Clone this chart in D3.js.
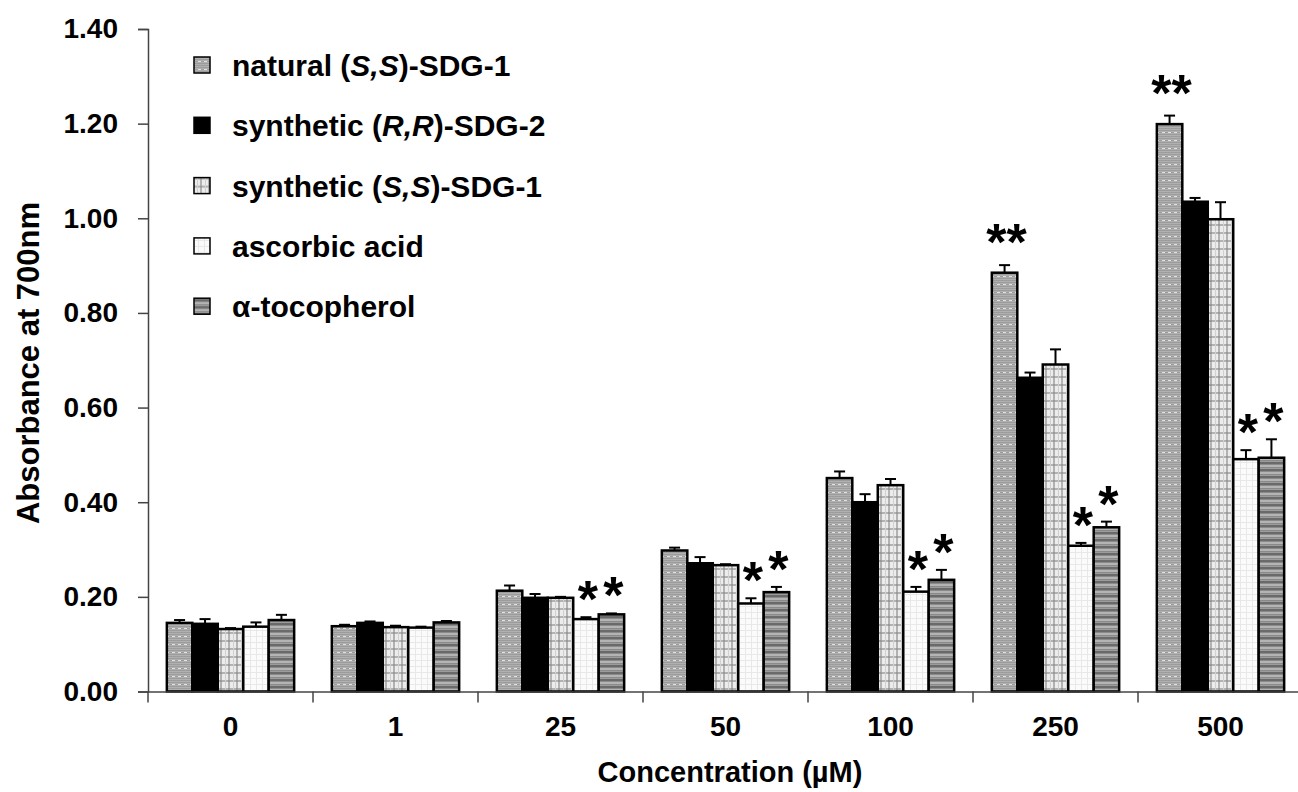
<!DOCTYPE html>
<html>
<head>
<meta charset="utf-8">
<script src="https://cdn.jsdelivr.net/npm/d3@7"></script>
<style>
  body { margin: 0; background: #fff; }
  svg text { font-family: "Liberation Sans", Arial, sans-serif; font-weight: bold; fill: #000; }
</style>
</head>
<body>
<div class="chartWrapper"></div>
<script>
// concentrations (µM)
var categories = ['0', '1', '25', '50', '100', '250', '500'];
var seriesKeys = ['natural', 'synthRR', 'synthSS', 'ascorbic', 'tocopherol'];
// legend labels, odd parts are italic
var seriesLabels = [
  ['natural (', 'S,S', ')-SDG-1'],
  ['synthetic (', 'R,R', ')-SDG-2'],
  ['synthetic (', 'S,S', ')-SDG-1'],
  ['ascorbic acid'],
  ['α-tocopherol']
];
var natural      = [0.145, 0.138, 0.213, 0.298, 0.451, 0.885, 1.199];
var naturalErr   = [0.006, 0.003, 0.011, 0.006, 0.014, 0.016, 0.018];
var synthRR      = [0.143, 0.145, 0.198, 0.271, 0.400, 0.663, 1.035];
var synthRRErr   = [0.010, 0.003, 0.008, 0.013, 0.017, 0.011, 0.008];
var synthSS      = [0.132, 0.136, 0.198, 0.267, 0.436, 0.691, 0.998];
var synthSSErr   = [0.002, 0.003, 0.002, 0.002, 0.013, 0.032, 0.036];
var ascorbic     = [0.137, 0.135, 0.153, 0.186, 0.211, 0.308, 0.491];
var ascorbicErr  = [0.009, 0.002, 0.004, 0.011, 0.010, 0.006, 0.019];
var tocopherol    = [0.151, 0.146, 0.163, 0.210, 0.236, 0.347, 0.494];
var tocopherolErr = [0.011, 0.003, 0.002, 0.011, 0.021, 0.012, 0.039];
var naturalSig    = ['', '', '', '', '', '**', '**'];
var ascorbicSig   = ['', '', '*', '*', '*', '*', '*'];
var tocopherolSig = ['', '', '*', '*', '*', '*', '*'];
var yTicks = [0, 0.2, 0.4, 0.6, 0.8, 1.0, 1.2, 1.4];

var values = { natural: natural, synthRR: synthRR, synthSS: synthSS, ascorbic: ascorbic, tocopherol: tocopherol };
var errors = { natural: naturalErr, synthRR: synthRRErr, synthSS: synthSSErr, ascorbic: ascorbicErr, tocopherol: tocopherolErr };
var stars  = { natural: naturalSig, ascorbic: ascorbicSig, tocopherol: tocopherolSig };

var width = 1298, height = 792;
var x0 = 148, yBase = 691.5, yTop = 29, step = 165;

var svg = d3.select('.chartWrapper').append('svg')
  .attr('width', width)
  .attr('height', height);

// fill patterns for the five series
var defs = svg.append('defs');
var fills = {};

var p = defs.append('pattern').attr('id', 'pNatural').attr('patternUnits', 'userSpaceOnUse')
  .attr('width', 6).attr('height', 8);
p.append('rect').attr('width', 6).attr('height', 8).attr('fill', '#9c9c9c');
[1, 3, 5, 7].forEach(function (y) {
  p.append('rect').attr('x', 0).attr('y', y).attr('width', 6).attr('height', 1).attr('fill', '#b0b0b0');
});
p.append('rect').attr('x', 0).attr('y', 4).attr('width', 3).attr('height', 1).attr('fill', '#e2e2e2');
fills.natural = 'url(#pNatural)';

fills.synthRR = '#000';

p = defs.append('pattern').attr('id', 'pSynthSS').attr('patternUnits', 'userSpaceOnUse')
  .attr('width', 8).attr('height', 8);
p.append('rect').attr('width', 8).attr('height', 8).attr('fill', '#ececec');
p.append('rect').attr('x', 0).attr('y', 0).attr('width', 2).attr('height', 8).attr('fill', '#b2b2b2');
p.append('rect').attr('x', 0).attr('y', 0).attr('width', 8).attr('height', 2).attr('fill', '#b2b2b2');
p.append('rect').attr('x', 0).attr('y', 0).attr('width', 2).attr('height', 2).attr('fill', '#999');
p.append('rect').attr('x', 5).attr('y', 0).attr('width', 1).attr('height', 8).attr('fill', '#d0d0d0');
fills.synthSS = 'url(#pSynthSS)';

p = defs.append('pattern').attr('id', 'pAscorbic').attr('patternUnits', 'userSpaceOnUse')
  .attr('width', 6).attr('height', 6);
p.append('rect').attr('width', 6).attr('height', 6).attr('fill', '#fbfbfb');
p.append('rect').attr('x', 0).attr('y', 0).attr('width', 1).attr('height', 6).attr('fill', '#e8e8e8');
p.append('rect').attr('x', 0).attr('y', 0).attr('width', 6).attr('height', 1).attr('fill', '#e8e8e8');
fills.ascorbic = 'url(#pAscorbic)';

p = defs.append('pattern').attr('id', 'pToco').attr('patternUnits', 'userSpaceOnUse')
  .attr('width', 8).attr('height', 7);
p.append('rect').attr('width', 8).attr('height', 7).attr('fill', '#8a8a8a');
p.append('rect').attr('x', 0).attr('y', 0).attr('width', 8).attr('height', 2).attr('fill', '#6a6a6a');
p.append('rect').attr('x', 0).attr('y', 3).attr('width', 8).attr('height', 2).attr('fill', '#b4b4b4');
p.append('rect').attr('x', 0).attr('y', 6).attr('width', 8).attr('height', 1).attr('fill', '#9c9c9c');
fills.tocopherol = 'url(#pToco)';

// scales
var xScale = d3.scaleBand()
  .domain(categories)
  .range([x0, x0 + step * categories.length])
  .paddingInner(0)
  .paddingOuter(0);
var xInner = d3.scaleBand()
  .domain(seriesKeys)
  .range([0, xScale.bandwidth()])
  .paddingInner(0)
  .paddingOuter(0.74);
var yScale = d3.scaleLinear()
  .domain([0, 1.4])
  .range([yBase, yTop]);

// bars
var groups = svg.selectAll('g.cat')
  .data(categories)
  .enter()
  .append('g')
  .attr('class', 'cat')
  .attr('transform', function (d) { return 'translate(' + xScale(d) + ',0)'; });

seriesKeys.forEach(function (key) {
  groups.append('rect')
    .attr('x', xInner(key))
    .attr('y', function (d, i) { return yScale(values[key][i]); })
    .attr('width', xInner.bandwidth())
    .attr('height', function (d, i) { return yBase - yScale(values[key][i]); })
    .attr('fill', fills[key])
    .attr('stroke', '#000')
    .attr('stroke-width', 2.5);
});

// error bars (upper only)
seriesKeys.forEach(function (key) {
  var cx = xInner(key) + xInner.bandwidth() / 2;
  groups.append('line')
    .attr('x1', cx).attr('x2', cx)
    .attr('y1', function (d, i) { return yScale(values[key][i]); })
    .attr('y2', function (d, i) { return yScale(values[key][i] + errors[key][i]); })
    .attr('stroke', '#000').attr('stroke-width', 2);
  groups.append('line')
    .attr('x1', cx - 5.5).attr('x2', cx + 5.5)
    .attr('y1', function (d, i) { return yScale(values[key][i] + errors[key][i]); })
    .attr('y2', function (d, i) { return yScale(values[key][i] + errors[key][i]); })
    .attr('stroke', '#000').attr('stroke-width', 2);
});

// significance stars
Object.keys(stars).forEach(function (key) {
  var cx = xInner(key) + xInner.bandwidth() / 2;
  groups.append('text')
    .attr('x', cx + 2)
    .attr('y', function (d, i) {
      var gap = stars[key][i].length > 1 ? -5 : 0;
      return yScale(values[key][i] + errors[key][i]) + gap;
    })
    .attr('text-anchor', 'middle')
    .attr('font-size', '52px')
    .text(function (d, i) { return stars[key][i]; });
});

// axes
var yAxis = d3.axisLeft(yScale)
  .tickValues(yTicks)
  .tickFormat(d3.format('.2f'))
  .tickSize(10)
  .tickPadding(20);
svg.append('g')
  .attr('class', 'axis yAxis')
  .attr('transform', 'translate(' + x0 + ',0)')
  .call(yAxis);

var xAxis = d3.axisBottom(xScale)
  .tickSize(0)
  .tickPadding(25);
svg.append('g')
  .attr('class', 'axis xAxis')
  .attr('transform', 'translate(0,' + yBase + ')')
  .call(xAxis);

// category separators below the axis
svg.append('g').selectAll('line')
  .data(categories)
  .enter()
  .append('line')
  .attr('x1', function (d) { return xScale(d); })
  .attr('x2', function (d) { return xScale(d); })
  .attr('y1', yBase)
  .attr('y2', yBase + 11)
  .attr('stroke', '#444')
  .attr('stroke-width', 1.5);

svg.selectAll('.axis path, .axis line')
  .attr('stroke', '#444')
  .attr('stroke-width', 1.5);
svg.selectAll('.axis text')
  .attr('font-size', '28px')
  .attr('font-family', '"Liberation Sans", Arial, sans-serif')
  .attr('font-weight', 'bold')
  .attr('fill', '#000');

// axis titles
svg.append('text')
  .attr('transform', 'translate(39,363) rotate(-90)')
  .attr('text-anchor', 'middle')
  .attr('font-size', '31px')
  .text('Absorbance at 700nm');
svg.append('text')
  .attr('x', 730)
  .attr('y', 782)
  .attr('text-anchor', 'middle')
  .attr('font-size', '29px')
  .text('Concentration (µM)');

// legend
var legend = svg.append('g').attr('class', 'legend');
var rows = legend.selectAll('g')
  .data(seriesKeys)
  .enter()
  .append('g')
  .attr('transform', function (d, i) { return 'translate(0,' + (65 + i * 60.3) + ')'; });
rows.append('rect')
  .attr('x', 194)
  .attr('y', -8)
  .attr('width', 16)
  .attr('height', 16)
  .attr('fill', function (d) { return fills[d]; })
  .attr('stroke', '#000')
  .attr('stroke-width', 1.5);
var labels = rows.append('text')
  .attr('x', 232)
  .attr('y', 11)
  .attr('font-size', '30px');
labels.each(function (d, i) {
  var t = d3.select(this);
  seriesLabels[i].forEach(function (part, j) {
    t.append('tspan')
      .attr('font-style', j % 2 === 1 ? 'italic' : 'normal')
      .text(part);
  });
});
</script>
</body>
</html>
